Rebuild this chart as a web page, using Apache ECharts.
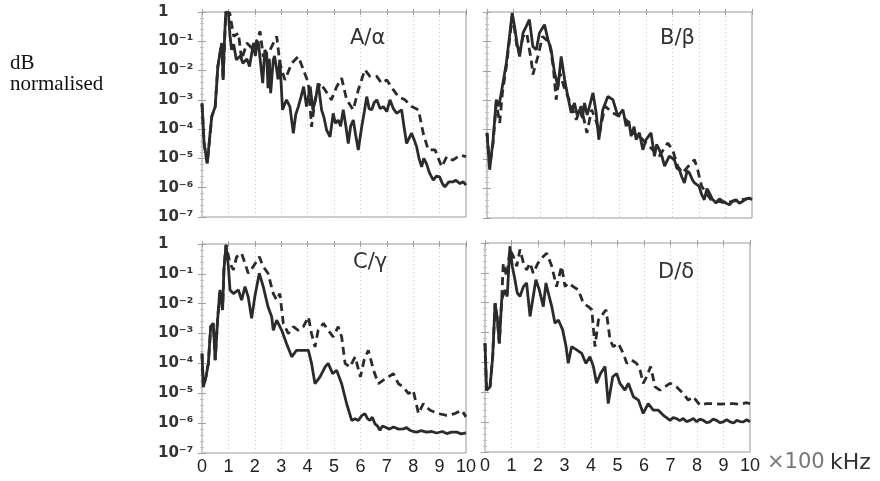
<!DOCTYPE html>
<html>
<head>
<meta charset="utf-8">
<script src="https://cdn.jsdelivr.net/npm/echarts@6/dist/echarts.min.js"></script>
<style>
html,body{margin:0;padding:0;background:#fff;}
#chart{width:880px;height:481px;}
</style>
</head>
<body>
<div id="chart"></div>
<script>
// Frequency in units of 100 kHz; values are log10 of normalised level.
const xTicks = [0,1,2,3,4,5,6,7,8,9,10];
const yTicksLog = [-7,-6,-5,-4,-3,-2,-1,0];
const yTickLabels = {'0':'1','-1':'10\u207b\u00b9','-2':'10\u207b\u00b2','-3':'10\u207b\u00b3','-4':'10\u207b\u2074','-5':'10\u207b\u2075','-6':'10\u207b\u2076','-7':'10\u207b\u2077'};
const panelTitles = ['A/\u03b1','B/\u03b2','C/\u03b3','D/\u03b4'];

const aSolid = [[0,-3.12],[0.08,-4.49],[0.2,-5.17],[0.3,-4.2],[0.37,-3.57],[0.5,-3.23],[0.6,-1.86],[0.7,-1.3],[0.75,-1.06],[0.8,-2.32],[0.85,-1.0],[0.9,0],[1.0,-0.03],[1.06,-0.8],[1.12,-1.29],[1.2,-1.1],[1.3,-1.63],[1.45,-1.5],[1.55,-1.75],[1.7,-1.6],[1.8,-1.86],[1.95,-1.06],[2.02,-1.5],[2.07,-1.18],[2.13,-1.0],[2.2,-1.06],[2.25,-2.0],[2.3,-2.43],[2.38,-1.3],[2.45,-1.4],[2.5,-2.6],[2.55,-1.6],[2.6,-2.77],[2.65,-2.2],[2.7,-1.63],[2.75,-1.5],[2.83,-1.97],[2.88,-2.3],[2.95,-1.63],[3.05,-3.34],[3.2,-3.0],[3.33,-3.23],[3.46,-4.14],[3.55,-3.5],[3.65,-3.23],[3.75,-2.9],[3.85,-2.55],[3.96,-3.23],[4.1,-2.55],[4.2,-3.34],[4.3,-3.0],[4.4,-2.43],[4.53,-3.34],[4.62,-3.6],[4.72,-4.03],[4.85,-4.26],[4.97,-3.46],[5.05,-3.8],[5.16,-3.69],[5.25,-3.9],[5.35,-3.34],[5.45,-3.9],[5.54,-4.49],[5.63,-3.9],[5.73,-3.69],[5.82,-4.2],[5.92,-4.71],[6.05,-3.92],[6.15,-3.4],[6.24,-2.89],[6.33,-3.3],[6.43,-3.34],[6.52,-3.1],[6.62,-3.0],[6.75,-3.3],[6.87,-3.23],[7.0,-3.4],[7.12,-3.0],[7.25,-3.3],[7.37,-3.46],[7.56,-3.34],[7.65,-3.9],[7.75,-4.49],[7.85,-4.3],[7.94,-4.14],[8.05,-4.4],[8.13,-4.6],[8.22,-5.0],[8.32,-5.29],[8.4,-5.0],[8.5,-5.17],[8.62,-5.5],[8.76,-5.74],[8.88,-5.6],[9.0,-5.63],[9.1,-5.85],[9.2,-5.97],[9.35,-5.8],[9.5,-5.8],[9.62,-5.75],[9.77,-5.86],[9.9,-5.8],[10,-5.91]];
const aDashed = [[0,-3.12],[0.08,-4.49],[0.2,-5.17],[0.37,-3.57],[0.5,-3.23],[0.6,-1.86],[0.75,-1.06],[0.8,-2.32],[0.9,0],[1.05,-0.03],[1.2,-0.83],[1.38,-0.72],[1.5,-1.63],[1.7,-1.06],[1.95,-1.29],[2.2,-0.66],[2.32,-1.52],[2.58,-1.29],[2.83,-0.83],[2.95,-1.75],[3.14,-2.32],[3.4,-1.75],[3.65,-1.52],[3.84,-1.97],[4.03,-2.43],[4.15,-3.92],[4.28,-3.0],[4.47,-2.43],[4.66,-2.66],[4.9,-3.0],[5.1,-2.55],[5.29,-2.26],[5.48,-3.0],[5.73,-3.34],[5.92,-2.66],[6.17,-1.97],[6.36,-2.2],[6.62,-2.2],[6.8,-2.43],[7.0,-2.32],[7.25,-2.66],[7.44,-2.89],[7.69,-3.0],[7.94,-3.23],[8.2,-3.34],[8.38,-4.14],[8.57,-4.71],[8.83,-4.71],[9.08,-5.29],[9.27,-4.94],[9.5,-5.06],[9.77,-4.89],[10,-4.94]];

const bSolid = [[0,-4.11],[0.1,-5.36],[0.23,-4.34],[0.35,-2.98],[0.45,-3.2],[0.58,-2.53],[0.73,-1.73],[0.85,-0.83],[0.95,-0.03],[1.04,-0.49],[1.13,-1.05],[1.23,-1.51],[1.36,-0.71],[1.48,-0.49],[1.6,-0.26],[1.73,-1.17],[1.86,-1.28],[1.98,-0.71],[2.17,-0.43],[2.3,-0.94],[2.42,-1.28],[2.55,-2.07],[2.68,-2.53],[2.8,-1.51],[2.93,-2.3],[3.05,-2.87],[3.18,-3.43],[3.3,-3.09],[3.4,-3.5],[3.5,-3.32],[3.6,-3.6],[3.68,-3.09],[3.78,-3.5],[3.87,-3.2],[4.0,-2.75],[4.12,-3.43],[4.22,-4.34],[4.37,-3.32],[4.56,-2.87],[4.75,-2.98],[4.94,-3.54],[5.13,-3.32],[5.25,-3.88],[5.35,-3.7],[5.44,-4.22],[5.55,-3.9],[5.63,-4.34],[5.75,-4.1],[5.88,-4.68],[6.0,-4.34],[6.19,-4.11],[6.32,-4.9],[6.4,-4.5],[6.5,-4.68],[6.6,-4.9],[6.7,-5.24],[6.88,-4.9],[7.07,-5.02],[7.16,-5.3],[7.26,-5.36],[7.35,-5.6],[7.45,-5.81],[7.55,-5.4],[7.64,-5.47],[7.75,-5.7],[7.83,-5.81],[8.0,-5.92],[8.1,-6.2],[8.2,-6.38],[8.3,-6.0],[8.39,-6.15],[8.5,-6.35],[8.64,-6.49],[8.77,-6.35],[8.9,-6.43],[9.03,-6.5],[9.15,-6.55],[9.28,-6.42],[9.4,-6.38],[9.52,-6.5],[9.65,-6.43],[9.78,-6.35],[9.9,-6.32],[10,-6.38]];
const bDashed = [[0,-4.11],[0.1,-5.24],[0.23,-4.45],[0.35,-3.09],[0.48,-3.77],[0.58,-2.75],[0.73,-1.85],[0.85,-0.94],[0.95,-0.15],[1.04,-0.6],[1.13,-1.17],[1.23,-1.39],[1.36,-0.83],[1.5,-0.71],[1.6,-1.28],[1.67,-1.62],[1.73,-2.13],[1.92,-1.51],[2.1,-0.83],[2.36,-1.05],[2.5,-1.85],[2.61,-2.98],[2.75,-2.07],[2.9,-2.53],[3.1,-2.98],[3.37,-3.66],[3.55,-3.2],[3.77,-4.11],[3.95,-3.32],[4.1,-3.66],[4.25,-4.11],[4.45,-3.2],[4.75,-3.43],[5.0,-3.54],[5.25,-3.66],[5.5,-4.11],[5.75,-4.22],[6.0,-4.45],[6.25,-4.68],[6.5,-4.9],[6.82,-4.45],[7.0,-4.68],[7.2,-5.24],[7.38,-5.47],[7.6,-5.24],[7.83,-5.02],[7.95,-5.36],[8.1,-5.92],[8.27,-6.15],[8.45,-6.38],[8.7,-6.43],[9.0,-6.49],[9.3,-6.43],[9.6,-6.38],[10,-6.32]];

const cSolid = [[0,-3.67],[0.05,-4.79],[0.15,-4.45],[0.24,-4.0],[0.33,-2.77],[0.43,-2.66],[0.5,-3.89],[0.59,-2.55],[0.68,-1.54],[0.78,-2.21],[0.83,-0.87],[0.91,-0.03],[1.0,-0.76],[1.06,-1.54],[1.19,-1.66],[1.38,-1.54],[1.5,-1.88],[1.63,-1.43],[1.75,-1.77],[1.88,-2.49],[2.0,-1.77],[2.17,-0.98],[2.32,-1.43],[2.5,-2.1],[2.64,-2.44],[2.7,-2.89],[2.83,-2.55],[3.02,-2.89],[3.2,-3.33],[3.4,-3.78],[3.58,-3.56],[3.84,-3.56],[4.03,-3.56],[4.15,-4.0],[4.28,-4.68],[4.47,-4.45],[4.66,-4.12],[4.78,-4.0],[4.95,-4.34],[5.1,-4.23],[5.29,-4.68],[5.48,-5.35],[5.67,-5.91],[5.8,-5.85],[5.92,-5.91],[6.05,-5.75],[6.17,-5.68],[6.27,-5.85],[6.36,-5.91],[6.45,-5.8],[6.55,-6.02],[6.65,-6.1],[6.74,-6.24],[6.83,-6.1],[6.93,-6.13],[7.1,-6.2],[7.25,-6.13],[7.45,-6.2],[7.63,-6.19],[7.75,-6.15],[7.88,-6.24],[8.0,-6.28],[8.13,-6.3],[8.3,-6.25],[8.5,-6.3],[8.7,-6.28],[8.89,-6.33],[9.1,-6.28],[9.27,-6.35],[9.45,-6.3],[9.65,-6.3],[9.82,-6.36],[10,-6.33]];
const cDashed = [[0,-3.67],[0.05,-4.79],[0.15,-4.45],[0.24,-4.0],[0.33,-2.77],[0.43,-2.66],[0.5,-3.89],[0.59,-2.55],[0.68,-1.54],[0.78,-2.21],[0.83,-0.87],[0.91,-0.03],[1.06,-0.65],[1.19,-0.87],[1.31,-0.43],[1.5,-0.31],[1.63,-0.65],[1.75,-0.98],[1.94,-0.76],[2.17,-0.43],[2.32,-0.76],[2.5,-0.98],[2.7,-1.66],[2.83,-1.88],[2.95,-1.66],[3.08,-2.66],[3.27,-3.0],[3.46,-2.77],[3.65,-2.89],[3.84,-2.77],[4.03,-2.44],[4.15,-3.0],[4.28,-3.45],[4.4,-2.89],[4.6,-2.66],[4.78,-2.89],[4.97,-3.11],[5.16,-2.77],[5.29,-3.11],[5.42,-4.0],[5.6,-4.12],[5.8,-3.78],[6.0,-4.45],[6.14,-3.89],[6.3,-3.56],[6.5,-4.23],[6.68,-4.68],[6.87,-4.56],[7.06,-4.45],[7.25,-4.34],[7.44,-4.68],[7.63,-4.79],[7.82,-5.01],[8.0,-4.9],[8.2,-5.68],[8.38,-5.35],[8.64,-5.57],[8.95,-5.68],[9.27,-5.74],[9.58,-5.68],[9.84,-5.57],[10,-5.79]];

const dSolid = [[0,-3.36],[0.06,-4.93],[0.19,-4.82],[0.29,-3.81],[0.38,-2.02],[0.47,-2.58],[0.54,-3.36],[0.63,-1.9],[0.75,-1.57],[0.84,-1.79],[0.94,-0.11],[1.03,-0.78],[1.13,-1.23],[1.22,-1.68],[1.32,-1.79],[1.45,-1.46],[1.57,-1.34],[1.7,-2.46],[1.82,-1.79],[1.92,-1.23],[2.05,-1.57],[2.2,-2.13],[2.3,-1.34],[2.39,-1.68],[2.52,-2.13],[2.64,-2.69],[2.77,-2.58],[2.93,-2.91],[3.06,-3.47],[3.14,-4.03],[3.27,-3.47],[3.46,-3.58],[3.65,-3.7],[3.81,-4.03],[3.96,-3.81],[4.09,-4.14],[4.21,-4.7],[4.36,-4.37],[4.53,-4.14],[4.65,-5.38],[4.82,-4.48],[4.97,-4.37],[5.09,-4.7],[5.28,-4.93],[5.41,-4.7],[5.6,-5.15],[5.79,-5.26],[5.97,-5.71],[6.16,-5.38],[6.35,-5.6],[6.54,-5.6],[6.73,-5.77],[6.85,-5.85],[6.98,-5.94],[7.1,-5.85],[7.23,-5.88],[7.35,-5.95],[7.48,-5.88],[7.6,-5.98],[7.74,-5.94],[7.86,-5.88],[7.99,-5.99],[8.1,-5.9],[8.24,-5.94],[8.36,-6.02],[8.49,-5.99],[8.6,-5.9],[8.74,-5.94],[8.86,-6.02],[8.99,-5.99],[9.12,-5.92],[9.25,-5.99],[9.38,-6.03],[9.5,-5.94],[9.62,-5.98],[9.75,-5.99],[9.88,-5.92],[10,-5.99]];
const dDashed = [[0,-3.36],[0.06,-4.93],[0.19,-4.82],[0.29,-3.81],[0.38,-2.02],[0.47,-2.58],[0.54,-3.36],[0.63,-1.9],[0.69,-0.67],[0.82,-1.12],[0.94,-0.22],[1.07,-0.45],[1.2,-0.78],[1.32,-0.22],[1.45,-0.67],[1.57,-0.9],[1.7,-0.67],[1.82,-1.01],[2.0,-0.67],[2.2,-0.45],[2.33,-0.34],[2.52,-0.78],[2.7,-1.46],[2.89,-0.78],[3.02,-1.46],[3.14,-1.34],[3.33,-1.46],[3.52,-1.57],[3.71,-2.02],[3.9,-2.13],[4.03,-2.24],[4.15,-3.47],[4.28,-2.58],[4.47,-2.35],[4.57,-2.24],[4.72,-3.25],[4.84,-3.47],[5.03,-3.36],[5.22,-3.7],[5.35,-4.03],[5.53,-3.92],[5.72,-4.03],[5.85,-4.26],[5.97,-4.7],[6.1,-4.48],[6.25,-4.14],[6.42,-4.82],[6.6,-4.93],[6.79,-4.82],[6.98,-4.7],[7.23,-4.82],[7.48,-5.04],[7.67,-5.26],[7.86,-5.15],[8.11,-5.43],[8.36,-5.38],[8.62,-5.38],[8.87,-5.4],[9.12,-5.38],[9.37,-5.38],[9.62,-5.4],[9.87,-5.35],[10,-5.38]];

const solids = [aSolid,bSolid,cSolid,dSolid];
const dasheds = [aDashed,bDashed,cDashed,dDashed];

const chart = echarts.init(document.getElementById('chart'), null, {renderer:'canvas'});

const grids = [
  {left:202, top:12, width:264, height:205},
  {left:487, top:12, width:265, height:206},
  {left:202, top:244, width:264, height:209},
  {left:485, top:243, width:265, height:209}
].map(g => Object.assign(g, {show:true, borderColor:'#9a9a9a', borderWidth:1, containLabel:false}));

const tickColor = '#a0a0a0';
const xAxes = [], yAxes = [], series = [];
for (let i = 0; i < 4; i++) {
  const bottomRow = i >= 2;
  const leftCol = i % 2 === 0;
  xAxes.push({
    type:'value', gridIndex:i, min:xTicks[0], max:xTicks[xTicks.length-1], interval:1,
    axisLine:{show:false},
    axisTick:{show:true, inside:true, length:3, lineStyle:{color:tickColor}},
    splitLine:{show:true, lineStyle:{color:'#c8c8c8', type:[1,3], width:1}},
    axisLabel:{show:bottomRow, margin:5, fontFamily:'Liberation Sans', fontSize:18, color:'#222'}
  });
  xAxes.push({
    type:'value', gridIndex:i, position:'top', min:0, max:10, interval:1,
    axisLine:{show:false},
    axisTick:{show:true, inside:true, length:3, lineStyle:{color:tickColor}},
    splitLine:{show:false}, axisLabel:{show:false}
  });
  yAxes.push({
    type:'value', gridIndex:i, min:yTicksLog[0], max:yTicksLog[yTicksLog.length-1], interval:1,
    axisLine:{show:false},
    axisTick:{show:true, inside:true, length:4, lineStyle:{color:tickColor}},
    minorTick:{show:true, splitNumber:5, length:2, lineStyle:{color:'#c0c0c0'}},
    splitLine:{show:false},
    axisLabel:{
      show:leftCol, align:'left', margin:44,
      fontFamily:'DejaVu Sans', fontWeight:'bold', fontSize:15, color:'#333',
      formatter: v => yTickLabels[String(v)]
    }
  });
  yAxes.push({
    type:'value', gridIndex:i, position:'right', min:-7, max:0, interval:1,
    axisLine:{show:false},
    axisTick:{show:true, inside:true, length:4, lineStyle:{color:tickColor}},
    minorTick:{show:true, splitNumber:5, length:2, lineStyle:{color:'#c0c0c0'}},
    splitLine:{show:false}, axisLabel:{show:false}
  });
  series.push({
    type:'line', xAxisIndex:2*i, yAxisIndex:2*i, data:dasheds[i], showSymbol:false, symbol:'none',
    lineStyle:{color:'#2b2b2b', width:2.8, type:[8,5]}, animation:false, z:2
  });
  series.push({
    type:'line', xAxisIndex:2*i, yAxisIndex:2*i, data:solids[i], showSymbol:false, symbol:'none',
    lineStyle:{color:'#2b2b2b', width:2.8}, animation:false, z:3
  });
}

const titlePos = [[350,39],[660,39],[353,263],[658,273]];
const graphic = panelTitles.map((t, i) => ({
  type:'text', x:titlePos[i][0], y:titlePos[i][1], z:10,
  style:{text:t, font:'21px "DejaVu Sans"', fill:'#333', textAlign:'left', textVerticalAlign:'middle'}
}));
graphic.push(
  {type:'text', x:10, y:63, style:{text:'dB', font:'21px "Liberation Serif"', fill:'#111', textVerticalAlign:'middle'}},
  {type:'text', x:10, y:84, style:{text:'normalised', font:'21px "Liberation Serif"', fill:'#111', textVerticalAlign:'middle'}},
  {type:'text', x:767, y:463, style:{text:'\u00d7100', font:'21px "DejaVu Sans"', fill:'#777', textVerticalAlign:'middle'}},
  {type:'text', x:830, y:463, style:{text:'kHz', font:'22px "DejaVu Sans"', fill:'#333', textVerticalAlign:'middle'}}
);

chart.setOption({
  animation:false,
  backgroundColor:'#fff',
  grid:grids, xAxis:xAxes, yAxis:yAxes, series:series, graphic:graphic
});
</script>
</body>
</html>
